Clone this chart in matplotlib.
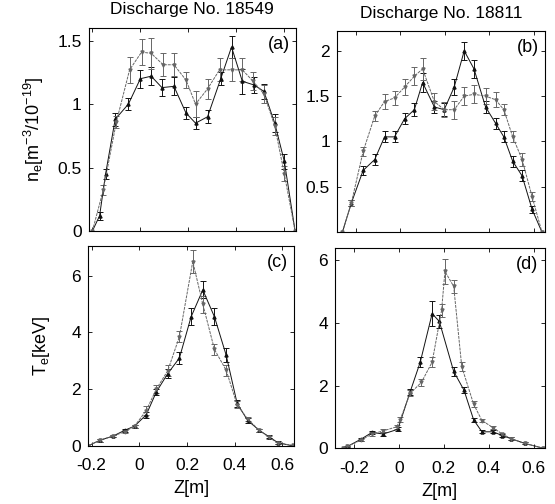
import matplotlib
matplotlib.use("Agg")
import matplotlib.pyplot as plt

plt.rcParams['font.family'] = ['Liberation Sans', 'DejaVu Sans']
plt.rcParams['mathtext.default'] = 'regular'

# --------- DATI: densita' (a) scarica 18549 ---------
za1 = [-0.2, -0.17, -0.145, -0.105, -0.05, 0.0, 0.045, 0.09, 0.14, 0.19, 0.23, 0.28, 0.335, 0.38, 0.425, 0.475, 0.515, 0.56, 0.60, 0.645]
na1 = [0.0, 0.12, 0.45, 0.88, 1.0, 1.2, 1.22, 1.13, 1.14, 0.93, 0.85, 0.9, 1.2, 1.45, 1.18, 1.15, 1.1, 0.85, 0.55, 0.0]
ea1 = [0.0, 0.03, 0.04, 0.05, 0.05, 0.07, 0.07, 0.07, 0.07, 0.05, 0.05, 0.05, 0.05, 0.09, 0.1, 0.06, 0.06, 0.07, 0.06, 0.0]

za2 = [-0.2, -0.155, -0.1, -0.045, 0.005, 0.045, 0.095, 0.14, 0.19, 0.23, 0.28, 0.33, 0.38, 0.425, 0.47, 0.515, 0.56, 0.60, 0.645]
na2 = [0.0, 0.32, 0.86, 1.27, 1.41, 1.4, 1.31, 1.31, 1.19, 1.0, 1.12, 1.27, 1.27, 1.27, 1.18, 1.08, 0.83, 0.45, 0.0]
ea2 = [0.0, 0.04, 0.05, 0.1, 0.1, 0.12, 0.09, 0.09, 0.06, 0.1, 0.08, 0.09, 0.09, 0.09, 0.07, 0.07, 0.07, 0.06, 0.0]

# --------- DATI: densita' (b) scarica 18811 ---------
zb1 = [-0.26, -0.22, -0.167, -0.115, -0.071, -0.026, 0.019, 0.063, 0.1, 0.153, 0.197, 0.242, 0.287, 0.331, 0.383, 0.428, 0.465, 0.505, 0.547, 0.592, 0.636]
nb1 = [0.0, 0.32, 0.68, 0.8, 1.05, 1.05, 1.25, 1.35, 1.65, 1.38, 1.35, 1.6, 2.0, 1.8, 1.38, 1.2, 1.05, 0.78, 0.62, 0.25, 0.0]
eb1 = [0.0, 0.03, 0.05, 0.06, 0.06, 0.06, 0.06, 0.07, 0.1, 0.07, 0.07, 0.09, 0.1, 0.1, 0.07, 0.06, 0.06, 0.06, 0.06, 0.04, 0.0]

zb2 = [-0.26, -0.22, -0.167, -0.115, -0.071, -0.026, 0.019, 0.063, 0.1, 0.153, 0.197, 0.242, 0.287, 0.331, 0.383, 0.428, 0.465, 0.505, 0.547, 0.592, 0.636]
nb2 = [0.0, 0.32, 0.89, 1.28, 1.44, 1.48, 1.6, 1.72, 1.8, 1.44, 1.35, 1.35, 1.5, 1.52, 1.5, 1.46, 1.35, 1.05, 0.8, 0.39, 0.0]
eb2 = [0.0, 0.03, 0.05, 0.06, 0.08, 0.08, 0.09, 0.1, 0.12, 0.09, 0.08, 0.1, 0.1, 0.1, 0.09, 0.08, 0.06, 0.06, 0.07, 0.05, 0.0]

# --------- DATI: temperatura (c) ---------
zc1 = [-0.215, -0.166, -0.11, -0.062, -0.02, 0.029, 0.071, 0.119, 0.168, 0.217, 0.266, 0.315, 0.364, 0.41, 0.454, 0.503, 0.545, 0.58, 0.645]
tc1 = [0.0, 0.2, 0.35, 0.55, 0.7, 1.1, 1.9, 2.55, 3.1, 4.55, 5.5, 4.55, 3.2, 1.5, 0.9, 0.55, 0.32, 0.12, 0.0]
ec1 = [0.0, 0.05, 0.05, 0.05, 0.05, 0.1, 0.12, 0.15, 0.2, 0.3, 0.3, 0.3, 0.25, 0.12, 0.08, 0.06, 0.05, 0.04, 0.0]

zc2 = [-0.215, -0.166, -0.11, -0.062, -0.02, 0.029, 0.071, 0.119, 0.168, 0.224, 0.266, 0.315, 0.364, 0.41, 0.454, 0.503, 0.545, 0.58, 0.645]
tc2 = [0.0, 0.2, 0.35, 0.5, 0.7, 1.25, 2.0, 2.65, 3.85, 6.5, 5.0, 3.4, 2.67, 1.45, 0.95, 0.55, 0.3, 0.1, 0.02]
ec2 = [0.0, 0.05, 0.05, 0.05, 0.05, 0.15, 0.15, 0.2, 0.2, 0.4, 0.3, 0.2, 0.2, 0.12, 0.08, 0.06, 0.05, 0.04, 0.0]

# --------- DATI: temperatura (d) ---------
zd1 = [-0.25, -0.23, -0.17, -0.12, -0.07, -0.005, 0.05, 0.095, 0.148, 0.18, 0.244, 0.29, 0.333, 0.37, 0.42, 0.46, 0.5, 0.56, 0.64]
td1 = [0.0, 0.05, 0.28, 0.5, 0.45, 0.6, 1.8, 2.75, 4.3, 4.05, 2.45, 1.85, 0.9, 0.52, 0.52, 0.4, 0.3, 0.15, 0.0]
ed1 = [0.0, 0.03, 0.04, 0.05, 0.05, 0.06, 0.1, 0.15, 0.4, 0.2, 0.15, 0.1, 0.07, 0.05, 0.05, 0.04, 0.04, 0.03, 0.0]

zd2 = [-0.25, -0.23, -0.17, -0.12, -0.07, -0.01, 0.005, 0.05, 0.1, 0.148, 0.19, 0.205, 0.244, 0.28, 0.333, 0.37, 0.42, 0.46, 0.5, 0.56, 0.64]
td2 = [0.0, 0.05, 0.25, 0.45, 0.55, 0.68, 0.9, 1.75, 2.1, 2.75, 4.4, 5.65, 5.17, 2.6, 1.4, 0.88, 0.65, 0.45, 0.3, 0.15, 0.0]
ed2 = [0.0, 0.03, 0.04, 0.05, 0.05, 0.06, 0.08, 0.1, 0.12, 0.15, 0.2, 0.4, 0.2, 0.15, 0.1, 0.06, 0.05, 0.04, 0.04, 0.03, 0.0]

titoli = ["Discharge No. 18549", "Discharge No. 18811"]
etichette = ["(a)", "(b)", "(c)", "(d)"]


def disegna(ax, x1, y1, e1, x2, y2, e2):
    ax.errorbar(x1, y1, yerr=e1, fmt='-', color='#111111', lw=0.7,
                marker='^', ms=2.2, capsize=2.2, elinewidth=0.7, capthick=0.7)
    ax.errorbar(x2, y2, yerr=e2, fmt='-', color='#666666', lw=0.7, ls=(0, (3, 1)),
                marker='v', ms=2.2, capsize=2.2, elinewidth=0.7, capthick=0.7)


fig = plt.figure(figsize=(5.55, 5.04), dpi=100)
ax_a = fig.add_axes([0.160, 0.5417, 0.373, 0.4028])
ax_b = fig.add_axes([0.607, 0.5397, 0.375, 0.399])
ax_c = fig.add_axes([0.1586, 0.1151, 0.371, 0.397])
ax_d = fig.add_axes([0.6036, 0.111, 0.378, 0.397])

disegna(ax_a, za1, na1, ea1, za2, na2, ea2)
disegna(ax_b, zb1, nb1, eb1, zb2, nb2, eb2)
disegna(ax_c, zc1, tc1, ec1, zc2, tc2, ec2)
disegna(ax_d, zd1, td1, ed1, zd2, td2, ed2)

ax_a.set_xlim(-0.215, 0.648)
ax_a.set_ylim(0, 1.6)
ax_a.set_yticks([0, 0.5, 1, 1.5])
ax_a.set_yticklabels(["0", "0.5", "1", "1.5"])

ax_b.set_xlim(-0.285, 0.65)
ax_b.set_ylim(0, 2.22)
ax_b.set_yticks([0.5, 1, 1.5, 2])
ax_b.set_yticklabels(["0.5", "1", "1.5", "2"])

ax_c.set_xlim(-0.215, 0.648)
ax_c.set_ylim(0, 7.05)
ax_c.set_yticks([0, 2, 4, 6])

ax_d.set_xlim(-0.285, 0.65)
ax_d.set_ylim(0, 6.4)
ax_d.set_yticks([0, 2, 4, 6])

for ax, lab in zip([ax_a, ax_b, ax_c, ax_d], etichette):
    ax.set_xticks([-0.2, 0, 0.2, 0.4, 0.6])
    ax.tick_params(direction='in', length=3, width=0.6, labelsize=12.5,
                   top=True, right=True)
    ax.tick_params(axis='y', pad=5)
    for s in ax.spines.values():
        s.set_linewidth(0.8)
    ax.text(0.97, 0.96, lab, transform=ax.transAxes, ha='right', va='top', fontsize=13)

for ax in [ax_a, ax_b]:
    ax.set_xticklabels([])
for ax in [ax_c, ax_d]:
    ax.set_xticklabels(["-0.2", "0", "0.2", "0.4", "0.6"])
    ax.tick_params(axis='x', pad=9)
    ax.set_xlabel("Z[m]", fontsize=13, labelpad=5)

ax_a.set_title(titoli[0], fontsize=12.5, pad=10)
ax_b.set_title(titoli[1], fontsize=12.5, pad=9)

ax_a.set_ylabel(r"n$_e$[m$^{-3}$/10$^{-19}$]", fontsize=13, labelpad=8)
ax_c.set_ylabel(r"T$_e$[keV]", fontsize=13, labelpad=14)

fig.savefig("out.png", dpi=100)
